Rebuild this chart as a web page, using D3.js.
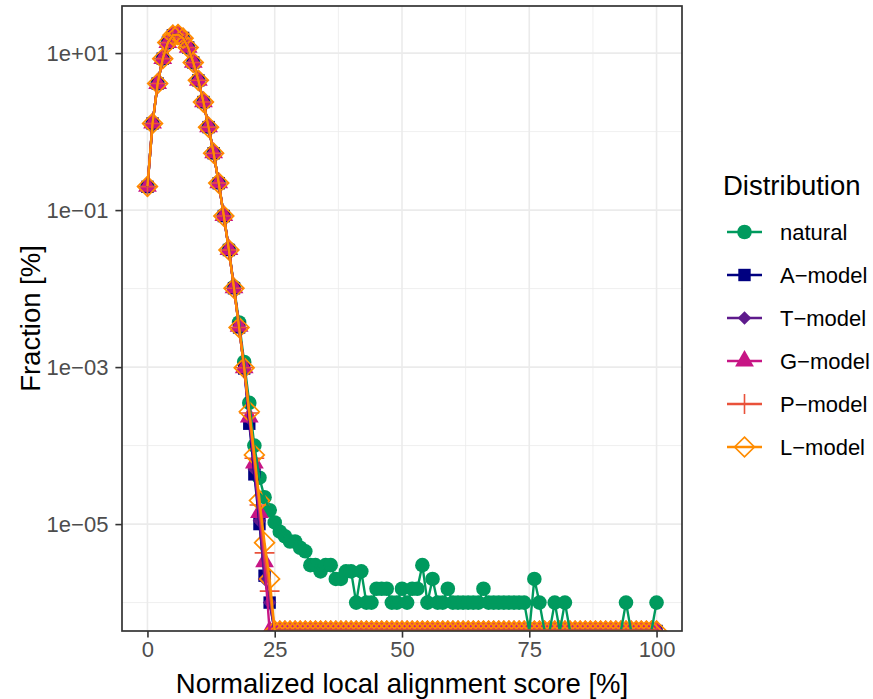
<!DOCTYPE html>
<html>
<head>
<meta charset="utf-8">
<script src="https://cdn.jsdelivr.net/npm/d3@7"></script>
<style>
  body { margin: 0; background: #ffffff; }
  svg text { font-family: "Liberation Sans", Arial, Helvetica, sans-serif; }
</style>
</head>
<body>
<svg id="chart" width="873" height="699"></svg>
<script>
// Score bins (x) and per-distribution fractions in percent (y, log scale).
const scoreBins = d3.range(0, 101);

const seriesNames  = ["natural", "A\u2212model", "T\u2212model", "G\u2212model", "P\u2212model", "L\u2212model"];
const seriesColors = ["#009A5E", "#000080", "#5E1A8C", "#C71585", "#E9523B", "#FF8C00"];
const seriesShapes = ["circle", "square", "diamond", "triangle", "plus", "openDiamond"];

const naturalValues = [
  0.2, 1.26, 4.1, 8.5, 13.6, 16.9, 17.2, 15.5, 11.7, 7.6,
  4.5, 2.4, 1.15, 0.54, 0.225, 0.086, 0.032, 0.0105, 0.0037, 0.00116,
  3.5e-4, 1.0e-4, 3.9e-5, 2.2e-5, 1.5e-5, 1.05e-5, 8e-6, 7e-6, 6e-6, 6e-6,
  5e-6, 4.5e-6, 3e-6, 3e-6, 2.5e-6, 3e-6, 3e-6, 2e-6, 2e-6, 2.5e-6,
  2.5e-6, 1e-6, 2.5e-6, 1e-6, 1e-6, 1.5e-6, 1.5e-6, 1.5e-6, 1e-6, 1e-6,
  1.5e-6, 1e-6, 1.5e-6, 1.5e-6, 3e-6, 1e-6, 2e-6, 1e-6, 1e-6, 1.5e-6,
  1e-6, 1e-6, 1e-6, 1e-6, 1e-6, 1e-6, 1.5e-6, 1e-6, 1e-6, 1e-6,
  1e-6, 1e-6, 1e-6, 1e-6, 1e-6, 0, 2e-6, 1e-6, 0, 0,
  1e-6, 0, 1e-6, 0, 0, 0, 0, 0, 0, 0,
  0, 0, 0, 0, 1e-6, 0, 0, 0, 0, 0,
  1e-6
];

const aModelValues = [
  0.198, 1.27, 4.1, 8.5, 13.6, 16.9, 17.3, 15.6, 11.8, 7.6,
  4.5, 2.38, 1.14, 0.53, 0.22, 0.084, 0.031, 0.0101, 0.0032, 0.00096,
  1.9e-4, 4.3e-5, 1.0e-5, 2.2e-6, 1e-6, 0, 0, 0, 0, 0,
  0, 0, 0, 0, 0, 0, 0, 0, 0, 0,
  0, 0, 0, 0, 0, 0, 0, 0, 0, 0,
  0, 0, 0, 0, 0, 0, 0, 0, 0, 0,
  0, 0, 0, 0, 0, 0, 0, 0, 0, 0,
  0, 0, 0, 0, 0, 0, 0, 0, 0, 0,
  0, 0, 0, 0, 0, 0, 0, 0, 0, 0,
  0, 0, 0, 0, 0, 0, 0, 0, 0, 0,
  0
];

const tModelValues = [
  0.198, 1.27, 4.1, 8.5, 13.6, 16.9, 17.3, 15.6, 11.8, 7.6,
  4.5, 2.38, 1.14, 0.53, 0.22, 0.084, 0.031, 0.0101, 0.0032, 0.00097,
  2.2e-4, 5e-5, 1.1e-5, 2e-6, 1e-6, 0, 0, 0, 0, 0,
  0, 0, 0, 0, 0, 0, 0, 0, 0, 0,
  0, 0, 0, 0, 0, 0, 0, 0, 0, 0,
  0, 0, 0, 0, 0, 0, 0, 0, 0, 0,
  0, 0, 0, 0, 0, 0, 0, 0, 0, 0,
  0, 0, 0, 0, 0, 0, 0, 0, 0, 0,
  0, 0, 0, 0, 0, 0, 0, 0, 0, 0,
  0, 0, 0, 0, 0, 0, 0, 0, 0, 0,
  0
];

const gModelValues = [
  0.2, 1.28, 4.1, 8.5, 13.6, 16.9, 17.2, 15.5, 11.8, 7.6,
  4.5, 2.39, 1.15, 0.535, 0.222, 0.085, 0.0315, 0.0102, 0.0033, 0.00098,
  2.3e-4, 6e-5, 1.4e-5, 3.3e-6, 0, 0, 0, 0, 0, 0,
  0, 0, 0, 0, 0, 0, 0, 0, 0, 0,
  0, 0, 0, 0, 0, 0, 0, 0, 0, 0,
  0, 0, 0, 0, 0, 0, 0, 0, 0, 0,
  0, 0, 0, 0, 0, 0, 0, 0, 0, 0,
  0, 0, 0, 0, 0, 0, 0, 0, 0, 0,
  0, 0, 0, 0, 0, 0, 0, 0, 0, 0,
  0, 0, 0, 0, 0, 0, 0, 0, 0, 0,
  0
];

const pModelValues = [
  0.199, 1.27, 4.1, 8.5, 13.6, 16.9, 17.2, 15.5, 11.8, 7.6,
  4.5, 2.38, 1.14, 0.53, 0.221, 0.084, 0.031, 0.0101, 0.0032, 0.00098,
  2.6e-4, 6.9e-5, 1.75e-5, 4.3e-6, 1.4e-6, 0, 0, 0, 0, 0,
  0, 0, 0, 0, 0, 0, 0, 0, 0, 0,
  0, 0, 0, 0, 0, 0, 0, 0, 0, 0,
  0, 0, 0, 0, 0, 0, 0, 0, 0, 0,
  0, 0, 0, 0, 0, 0, 0, 0, 0, 0,
  0, 0, 0, 0, 0, 0, 0, 0, 0, 0,
  0, 0, 0, 0, 0, 0, 0, 0, 0, 0,
  0, 0, 0, 0, 0, 0, 0, 0, 0, 0,
  0
];

const lModelValues = [
  0.2, 1.27, 4.1, 8.5, 13.6, 16.9, 17.2, 15.5, 11.8, 7.6,
  4.5, 2.38, 1.14, 0.53, 0.221, 0.084, 0.031, 0.0101, 0.0032, 0.00098,
  2.7e-4, 7.6e-5, 2.0e-5, 5.8e-6, 2e-6, 0, 0, 0, 0, 0,
  0, 0, 0, 0, 0, 0, 0, 0, 0, 0,
  0, 0, 0, 0, 0, 0, 0, 0, 0, 0,
  0, 0, 0, 0, 0, 0, 0, 0, 0, 0,
  0, 0, 0, 0, 0, 0, 0, 0, 0, 0,
  0, 0, 0, 0, 0, 0, 0, 0, 0, 0,
  0, 0, 0, 0, 0, 0, 0, 0, 0, 0,
  0, 0, 0, 0, 0, 0, 0, 0, 0, 0,
  0
];

const xTickValues = [0, 25, 50, 75, 100];
const xMinorValues = [12.5, 37.5, 62.5, 87.5];
const yTickValues = [1e1, 1e-1, 1e-3, 1e-5];
const yTickLabels = ["1e+01", "1e\u221201", "1e\u221203", "1e\u221205"];
const yMinorValues = [1e0, 1e-2, 1e-4, 1e-6];

const xTitle = "Normalized local alignment score [%]";
const yTitle = "Fraction [%]";
const legendTitle = "Distribution";

// ---------------------------------------------------------------------------
const valueLists = [naturalValues, aModelValues, tModelValues, gModelValues, pModelValues, lModelValues];
const series = seriesNames.map((name, i) => ({
  name,
  color: seriesColors[i],
  shape: seriesShapes[i],
  points: scoreBins.map((x, j) => ({ x, v: valueLists[i][j] }))
}));

const svg = d3.select("#chart");
const panel = { left: 122, top: 6, width: 560, height: 625 };

// x: 5% expansion of the data range
const xExt = d3.extent(scoreBins);
const xPad = (xExt[1] - xExt[0]) * 0.05;
const x = d3.scaleLinear().domain([xExt[0] - xPad, xExt[1] + xPad]).range([0, panel.width]);

// y: log scale over positive values, 5% expansion in log space
const positives = valueLists.flat().filter(v => v > 0);
const lMin = Math.log10(d3.min(positives)), lMax = Math.log10(d3.max(positives));
const lPad = (lMax - lMin) * 0.05;
const y = d3.scaleLog().domain([10 ** (lMin - lPad), 10 ** (lMax + lPad)]).range([panel.height, 0]);
// zero fractions sit at -Inf: pinned to the bottom edge of the panel
const yPos = v => (v > 0 ? y(v) : panel.height);

const g = svg.append("g").attr("transform", `translate(${panel.left},${panel.top})`);

svg.append("defs").append("clipPath").attr("id", "panelClip")
  .append("rect").attr("x", 0).attr("y", 0).attr("width", panel.width).attr("height", panel.height);

// grid
const grid = g.append("g");
grid.selectAll(".xminor").data(xMinorValues).join("line")
  .attr("x1", d => x(d)).attr("x2", d => x(d)).attr("y1", 0).attr("y2", panel.height)
  .attr("stroke", "#EBEBEB").attr("stroke-width", 0.8);
grid.selectAll(".yminor").data(yMinorValues).join("line")
  .attr("x1", 0).attr("x2", panel.width).attr("y1", d => y(d)).attr("y2", d => y(d))
  .attr("stroke", "#EBEBEB").attr("stroke-width", 0.8);
grid.selectAll(".xmajor").data(xTickValues).join("line")
  .attr("x1", d => x(d)).attr("x2", d => x(d)).attr("y1", 0).attr("y2", panel.height)
  .attr("stroke", "#EBEBEB").attr("stroke-width", 1.6);
grid.selectAll(".ymajor").data(yTickValues).join("line")
  .attr("x1", 0).attr("x2", panel.width).attr("y1", d => y(d)).attr("y2", d => y(d))
  .attr("stroke", "#EBEBEB").attr("stroke-width", 1.6);

// marker shapes (base radius ~7px)
function shapePath(shape) {
  switch (shape) {
    case "circle": return d3.symbol(d3.symbolCircle, Math.PI * 7.3 * 7.3)();
    case "square": return "M-6.2,-6.2H6.2V6.2H-6.2Z";
    case "diamond": return "M0,-6.8L6.8,0L0,6.8L-6.8,0Z";
    case "triangle": return "M0,-10.9L9.4,5.4L-9.4,5.4Z";
    case "plus": return "M-9.9,0H9.9M0,-9.9V9.9";
    case "openDiamond": return "M0,-9.9L9.9,0L0,9.9L-9.9,0Z";
  }
}
function styleMarker(sel, s) {
  if (s.shape === "plus") {
    sel.attr("fill", "none").attr("stroke", s.color).attr("stroke-width", 1.6);
  } else if (s.shape === "openDiamond") {
    sel.attr("fill", "none").attr("stroke", s.color).attr("stroke-width", 1.7);
  } else {
    sel.attr("fill", s.color).attr("stroke", "none");
  }
}

const plot = g.append("g").attr("clip-path", "url(#panelClip)");

// points first, then the connecting lines
series.forEach(s => {
  const path = shapePath(s.shape);
  plot.append("g").selectAll("path").data(s.points).join("path")
    .attr("d", path)
    .attr("transform", d => `translate(${x(d.x)},${yPos(d.v)})`)
    .call(sel => styleMarker(sel, s));
});

const line = d3.line().x(d => x(d.x)).y(d => yPos(d.v));
series.forEach(s => {
  plot.append("path").datum(s.points)
    .attr("d", line)
    .attr("fill", "none")
    .attr("stroke", s.color)
    .attr("stroke-width", 2.4)
    .attr("stroke-linejoin", "round");
});

// panel border
g.append("rect").attr("x", 0).attr("y", 0).attr("width", panel.width).attr("height", panel.height)
  .attr("fill", "none").attr("stroke", "#333333").attr("stroke-width", 1.7);

// axes
const xAxis = g.append("g").attr("transform", `translate(0,${panel.height})`)
  .call(d3.axisBottom(x).tickValues(xTickValues).tickSize(6.6).tickPadding(3.5));
const yAxis = g.append("g")
  .call(d3.axisLeft(y).tickValues(yTickValues).tickFormat((d, i) => yTickLabels[i]).tickSize(6.6).tickPadding(7));
[xAxis, yAxis].forEach(ax => {
  ax.select(".domain").remove();
  ax.selectAll(".tick line").attr("stroke", "#333333").attr("stroke-width", 1.6);
  ax.selectAll(".tick text").attr("fill", "#4D4D4D").style("font-size", "22px");
});

// axis titles
svg.append("text")
  .attr("x", panel.left + panel.width / 2).attr("y", 693)
  .attr("text-anchor", "middle").style("font-size", "27.5px").attr("fill", "#000")
  .text(xTitle);
svg.append("text")
  .attr("transform", `translate(40,${panel.top + panel.height / 2}) rotate(-90)`)
  .attr("text-anchor", "middle").style("font-size", "27.5px").attr("fill", "#000")
  .text(yTitle);

// legend
const legend = svg.append("g").attr("transform", "translate(723,0)");
legend.append("text").attr("x", 0).attr("y", 195)
  .style("font-size", "27.5px").attr("fill", "#000").text(legendTitle);
const rowY = d3.scalePoint().domain(seriesNames).range([232, 447]);
series.forEach(s => {
  const row = legend.append("g").attr("transform", `translate(0,${rowY(s.name)})`);
  row.append("line").attr("x1", 4).attr("x2", 39).attr("y1", 0).attr("y2", 0)
    .attr("stroke", s.color).attr("stroke-width", 2.4);
  row.append("path").attr("d", shapePath(s.shape)).attr("transform", "translate(21.5,0)")
    .call(sel => styleMarker(sel, s));
  row.append("text").attr("x", 57).attr("y", 8)
    .style("font-size", "22px").attr("fill", "#000").text(s.name);
});
</script>
</body>
</html>
